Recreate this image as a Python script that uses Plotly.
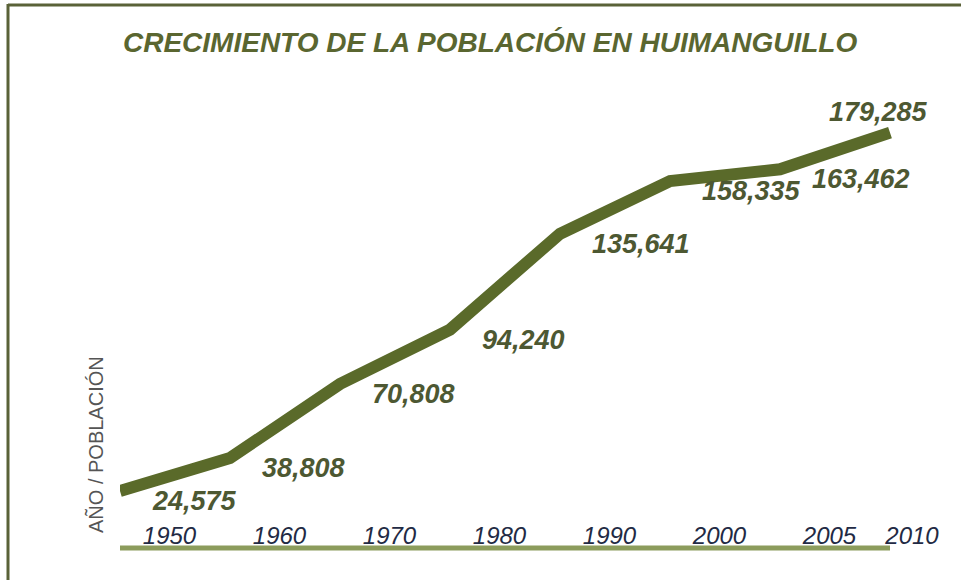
import plotly.graph_objects as go

years = ["1950", "1960", "1970", "1980", "1990", "2000", "2005", "2010"]
population = [24575, 38808, 70808, 94240, 135641, 158335, 163462, 179285]
title_text = "CRECIMIENTO DE LA POBLACIÓN EN HUIMANGUILLO"
y_title = "AÑO / POBLACIÓN"

idx = list(range(len(years)))
LINE_COLOR = "#5a6a2a"
LABEL_COLOR = "#4d5832"
FONT = "Liberation Sans, Arial"

L, R, T, B = 120, 16, 80, 28
W, H = 961, 580
PW, PH = W - L - R, H - T - B

fig = go.Figure()
fig.add_trace(go.Scatter(
    x=idx, y=population, mode="lines",
    line=dict(color=LINE_COLOR, width=12),
    hoverinfo="skip", showlegend=False,
))

# data labels
for i, v in zip(idx, population):
    last = i == idx[-1]
    fig.add_annotation(
        x=i, y=v, text=f"<b><i>{v:,}</i></b>", showarrow=False,
        xanchor="center" if last else "left",
        yanchor="bottom" if last else "middle",
        xshift=-12 if last else 30,
        yshift=4 if last else -10,
        font=dict(family=FONT, size=27, color=LABEL_COLOR),
    )

# ticks offset between points
tick_offset = 0.45
tickvals = [i + tick_offset for i in idx[:-1]] + [idx[-1] + 0.2]

fig.update_layout(
    width=W, height=H,
    paper_bgcolor="white", plot_bgcolor="white",
    margin=dict(l=L, r=R, t=T, b=B),
    title=dict(text=f"<b><i>{title_text}</i></b>", x=0.51, xanchor="center",
               y=0.927, yanchor="middle",
               font=dict(family=FONT, size=28, color="#5a6630")),
    xaxis=dict(range=[0, 7.5], tickmode="array", tickvals=tickvals,
               ticktext=[f"<i>{y}</i>" for y in years],
               ticklabelposition="inside", ticklabelstandoff=0, ticks="",
               showgrid=False, zeroline=False, showline=False,
               tickfont=dict(family=FONT, size=24, color="#222a44")),
    yaxis=dict(range=[-1750, 202000], showticklabels=False, showgrid=False,
               zeroline=False, showline=False, ticks=""),
)

# baseline (x axis line) from first to last category at y=0
fig.add_shape(type="line", xref="x", yref="y", x0=idx[0], x1=idx[-1],
              y0=0, y1=0, line=dict(color="#8c9c5c", width=5))

# y-axis title
fig.add_annotation(
    xref="paper", yref="paper", x=(95 - L) / PW, y=(H - B - 445) / PH,
    text=y_title, textangle=-90, showarrow=False, xanchor="center", yanchor="middle",
    font=dict(family=FONT, size=20, color="#555555"),
)

# frame lines (top and left)
fig.add_shape(type="line", xref="paper", yref="paper", x0=(8 - L) / PW, x1=(W - L) / PW,
              y0=(H - B - 5) / PH, y1=(H - B - 5) / PH, line=dict(color="#5a6238", width=3))
fig.add_shape(type="line", xref="paper", yref="paper", x0=(8 - L) / PW, x1=(8 - L) / PW,
              y0=(H - B - 4) / PH, y1=(H - B - 580) / PH, line=dict(color="#5a6238", width=3))

fig.write_html("out.html", config={"displayModeBar": False},
               post_script="document.body.style.margin='0';")
